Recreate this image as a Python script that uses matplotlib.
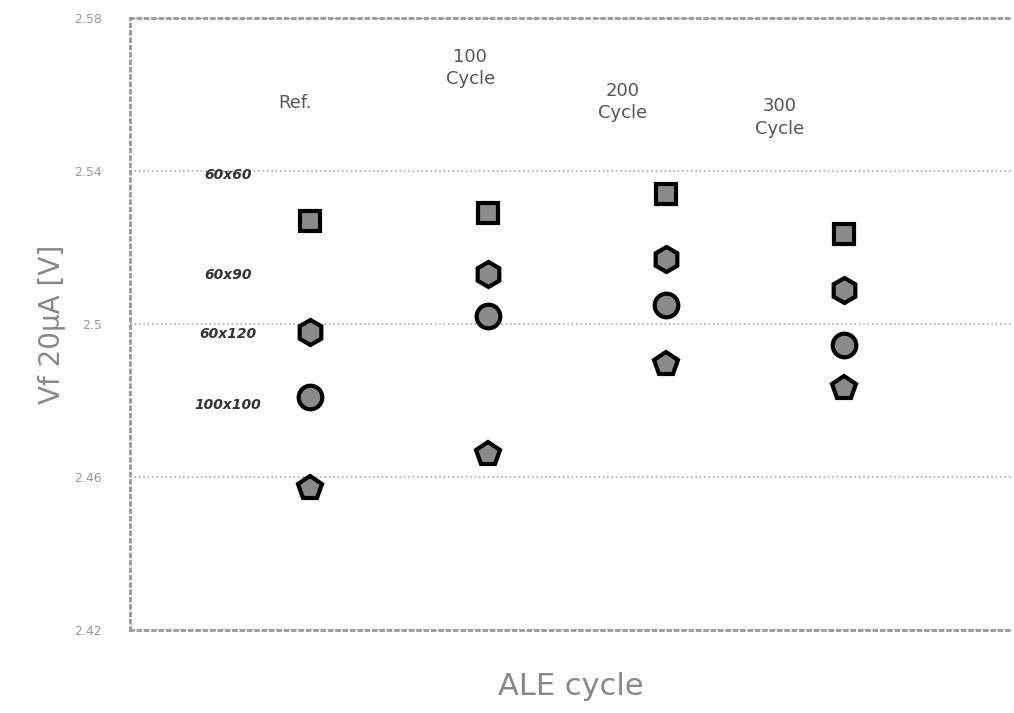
import matplotlib.pyplot as plt

# groups along the x axis
groups = ["Ref.", "100\nCycle", "200\nCycle", "300\nCycle"]
x_pos = [1, 2, 3, 4]

# Vf values, one list per pad size
vf_60x60 = [2.527, 2.529, 2.534, 2.5235]
vf_60x90 = [2.498, 2.513, 2.517, 2.509]
vf_60x120 = [2.481, 2.502, 2.505, 2.4945]
vf_100x100 = [2.457, 2.466, 2.4895, 2.4833]

series = [vf_60x60, vf_60x90, vf_60x120, vf_100x100]
markers = ["s", "h", "o", "p"]
msizes = [15, 18, 17, 18]
size_labels = ["60x60", "60x90", "60x120", "100x100"]
size_label_y = [2.539, 2.5128, 2.4974, 2.4788]

# where the group captions sit
group_label_x = [0.92, 1.9, 2.755, 3.636]
group_label_y = [2.5578, 2.567, 2.558, 2.554]

fig = plt.figure(figsize=(10.14, 7.13), dpi=100)
ax = fig.add_axes([0.128, 0.1164, 0.87, 0.8584])

for vals, m, ms in zip(series, markers, msizes):
    ax.plot(x_pos, vals, linestyle="none", marker=m, markersize=ms,
            markerfacecolor="#8a8a8a", markeredgecolor="black", markeredgewidth=3)

for lab, yy in zip(size_labels, size_label_y):
    ax.text(0.54, yy, lab, ha="center", va="center", fontsize=10,
            fontweight="bold", fontstyle="italic", color="#333333")

for lab, gx, gy in zip(groups, group_label_x, group_label_y):
    ax.text(gx, gy, lab, ha="center", va="center", fontsize=13,
            color="#555555", linespacing=1.3)

ax.set_xlim(-0.01, 4.94)
ax.set_ylim(2.42, 2.58)
ax.set_yticks([2.42, 2.46, 2.5, 2.54, 2.58])
ax.set_yticklabels(["2.42", "2.46", "2.5", "2.54", "2.58"])
ax.set_xticks([])
ax.tick_params(axis="y", length=0, labelsize=9, labelcolor="#999999", pad=20)

ax.grid(axis="y", linestyle=":", color="#aaaaaa", linewidth=1.2)
for side in ["left", "bottom", "top"]:
    ax.spines[side].set_color("#999999")
    ax.spines[side].set_linestyle(":")
    ax.spines[side].set_linewidth(2)
ax.spines["right"].set_visible(False)

ax.set_ylabel("Vf 20μA [V]", fontsize=20, color="#888888", labelpad=6)
ax.set_xlabel("ALE cycle", fontsize=22, color="#888888", labelpad=30)

plt.savefig("out.png")
